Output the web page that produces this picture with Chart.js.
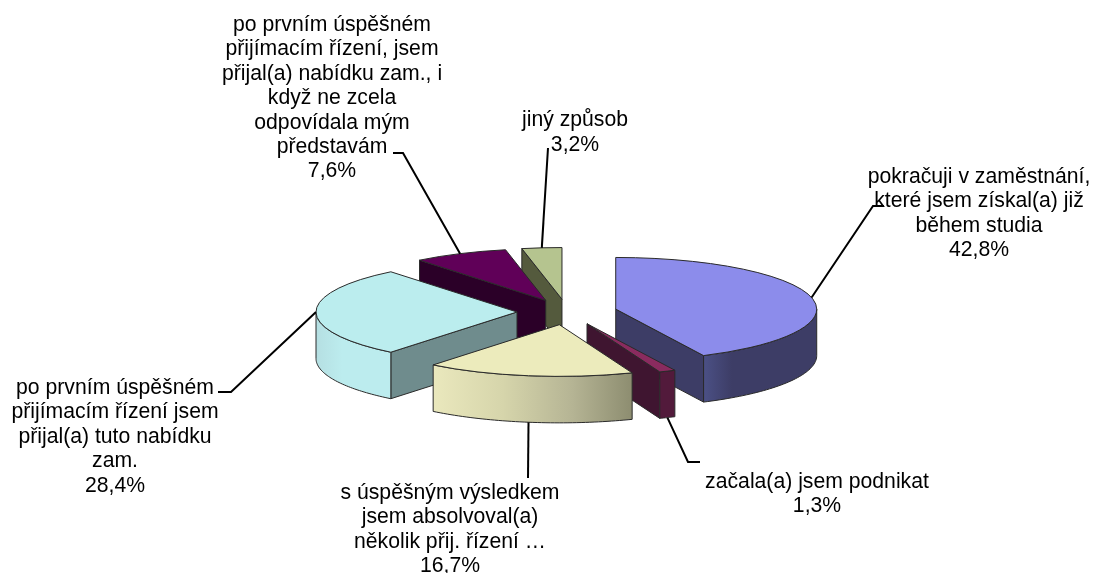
<!DOCTYPE html>
<html>
<head>
<meta charset="utf-8">
<style>
html,body{margin:0;padding:0;background:#fff;}
#wrap{position:relative;width:1093px;height:573px;}
canvas{display:block;}
</style>
<script src="https://cdn.jsdelivr.net/npm/chart.js@4"></script>
</head>
<body>
<div id="wrap"><canvas id="c" width="1093" height="573"></canvas></div>
<script>
// ---- data ----
const categories = [
  ["pokračuji v zaměstnání,", "které jsem získal(a) již", "během studia"],
  ["začala(a) jsem podnikat"],
  ["s úspěšným výsledkem", "jsem absolvoval(a)", "několik přij. řízení …"],
  ["po prvním úspěšném", "přijímacím řízení jsem", "přijal(a) tuto nabídku", "zam."],
  ["po prvním úspěšném", "přijímacím řízení, jsem", "přijal(a) nabídku zam., i", "když ne zcela", "odpovídala mým", "představám"],
  ["jiný způsob"]
];
const shares = [42.8, 1.3, 16.7, 28.4, 7.6, 3.2];

// ---- styling ----
const topColors  = ["#8c8ceb", "#8a2b5f", "#ecebbc", "#bbedee", "#600058", "#b5c48f"];
const cutColors  = ["#3d3d66", "#3f1530", "#8f8f72", "#6f8c8d", "#2b0028", "#545a3d"];
const rimStops   = [
  [[0,"#4b5085"],[0.25,"#3d3d66"],[1,"#3d3d66"]],
  [[0,"#521a3b"],[1,"#521a3b"]],
  [[0,"#eae8bd"],[0.35,"#d6d5ab"],[0.7,"#b5b494"],[1,"#8d8d70"]],
  [[0,"#b5dfe2"],[0.35,"#bcecee"],[1,"#bcecee"]],
  [[0,"#2b0028"],[1,"#2b0028"]],
  [[0,"#545a3d"],[1,"#545a3d"]]
];
const sideOrder = [5, 4, 0, 3, 1, 2];   // painted back to front
const TILT = 0.257, DEPTH = 46.5, EXPLODE = 50, RADIUS = 201;
const EDGE = "#2a2a2a";
const FONT = '21.2px "Liberation Sans", Arial, sans-serif';

// label layout: text centre x, first baseline, line step, leader path after its anchor
const labelX      = [979, 817, 450, 115, 332, 575];
const labelY      = [182.5, 487.5, 498.5, 394, 31, 125.5];
const labelStep   = [24.6, 24.5, 24.5, 24.4, 24.4, 25];
const leaderPaths = [
  [[873,206],[884,206]],
  [[688,462],[700,462]],
  [[528,478]],
  [[231,392],[218,392]],
  [[403,153],[393,153]],
  [[548,148]]
];

function pct(v){ return v.toFixed(1).replace(".", ",") + "%"; }

function squash(ctx, cx, cy){
  ctx.translate(cx, cy); ctx.scale(1, TILT); ctx.translate(-cx, -cy);
}
function pieGeom(arc){
  const mid = (arc.startAngle + arc.endAngle) / 2;
  return {
    ax: arc.x + Math.cos(mid) * EXPLODE,
    ay: arc.y + Math.sin(mid) * EXPLODE * TILT,
    dx: Math.cos(mid) * EXPLODE,
    dy: Math.sin(mid) * EXPLODE,
    r: arc.outerRadius, mid
  };
}
function rimPoint(g, t){ return [g.ax + g.r * Math.cos(t), g.ay + g.r * TILT * Math.sin(t)]; }

function drawCut(ctx, g, t, color){
  const p = rimPoint(g, t);
  ctx.beginPath();
  ctx.moveTo(g.ax, g.ay); ctx.lineTo(p[0], p[1]);
  ctx.lineTo(p[0], p[1] + DEPTH); ctx.lineTo(g.ax, g.ay + DEPTH); ctx.closePath();
  ctx.fillStyle = color; ctx.fill();
  ctx.strokeStyle = EDGE; ctx.lineWidth = 1; ctx.stroke();
}
function drawRim(ctx, g, a0, a1, stops){
  const steps = 48, pts = [];
  for (let i = 0; i <= steps; i++) pts.push(rimPoint(g, a0 + (a1 - a0) * i / steps));
  const xs = pts.map(p => p[0]);
  const grad = ctx.createLinearGradient(Math.min(...xs), 0, Math.max(...xs), 0);
  stops.forEach(s => grad.addColorStop(s[0], s[1]));
  ctx.beginPath();
  pts.forEach((p, i) => i ? ctx.lineTo(p[0], p[1]) : ctx.moveTo(p[0], p[1]));
  for (let i = steps; i >= 0; i--) ctx.lineTo(pts[i][0], pts[i][1] + DEPTH);
  ctx.closePath();
  ctx.fillStyle = grad; ctx.fill();
  ctx.strokeStyle = EDGE; ctx.lineWidth = 1; ctx.stroke();
}

const pie3d = {
  id: "pie3d",
  beforeDatasetDraw(chart){
    const ctx = chart.ctx, arcs = chart.getDatasetMeta(0).data;
    // extruded sides
    sideOrder.forEach(i => {
      const arc = arcs[i], g = pieGeom(arc);
      if (Math.cos(arc.startAngle) < -1e-6) drawCut(ctx, g, arc.startAngle, cutColors[i]);
      if (Math.cos(arc.endAngle) > 1e-6)    drawCut(ctx, g, arc.endAngle, cutColors[i]);
      const a0 = Math.max(arc.startAngle, 0), a1 = Math.min(arc.endAngle, Math.PI);
      if (a1 > a0) drawRim(ctx, g, a0, a1, rimStops[i]);
    });
    // top faces: the library's own arc elements, flattened and pulled apart
    sideOrder.forEach(i => {
      const arc = arcs[i], g = pieGeom(arc);
      ctx.save();
      squash(ctx, arc.x, arc.y);
      ctx.translate(g.dx, g.dy);
      arc.draw(ctx);
      ctx.beginPath();
      ctx.moveTo(arc.x, arc.y);
      ctx.arc(arc.x, arc.y, arc.outerRadius, arc.startAngle, arc.endAngle);
      ctx.closePath();
      ctx.restore();
      ctx.strokeStyle = EDGE; ctx.lineWidth = 1; ctx.lineJoin = "round";
      ctx.stroke();
    });
    return false;
  },
  afterDraw(chart){
    const ctx = chart.ctx, arcs = chart.getDatasetMeta(0).data;
    ctx.save();
    // leader lines
    ctx.strokeStyle = "#000"; ctx.lineWidth = 2; ctx.lineJoin = "miter";
    arcs.forEach((arc, i) => {
      const g = pieGeom(arc), p = rimPoint(g, g.mid);
      const front = Math.sin(g.mid) > 0;
      ctx.beginPath();
      ctx.moveTo(p[0], p[1] + (front ? DEPTH : 0));
      leaderPaths[i].forEach(q => ctx.lineTo(q[0], q[1]));
      ctx.stroke();
    });
    // labels
    ctx.fillStyle = "#000"; ctx.font = FONT;
    ctx.textAlign = "center"; ctx.textBaseline = "alphabetic";
    categories.forEach((lines, i) => {
      const all = lines.concat([pct(shares[i])]);
      all.forEach((t, j) => ctx.fillText(t, labelX[i], labelY[i] + j * labelStep[i]));
    });
    ctx.restore();
  }
};

new Chart(document.getElementById("c"), {
  type: "pie",
  data: {
    labels: categories.map(l => l.join(" ")),
    datasets: [{ data: shares, backgroundColor: topColors, borderWidth: 0, clip: false }]
  },
  options: {
    responsive: false,
    animation: false,
    radius: RADIUS,
    layout: { padding: { left: 41, top: 51 } },
    plugins: { legend: { display: false }, tooltip: { enabled: false } }
  },
  plugins: [pie3d]
});
</script>
</body>
</html>
